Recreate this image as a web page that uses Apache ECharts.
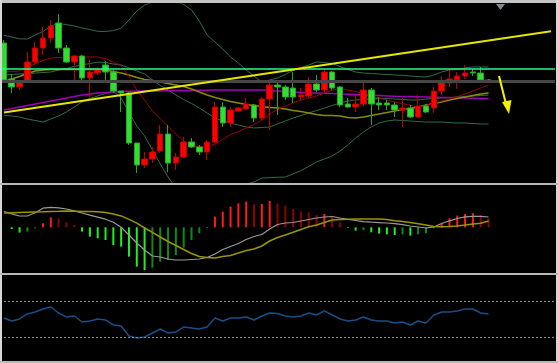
<!DOCTYPE html>
<html><head><meta charset="utf-8">
<script src="https://cdn.jsdelivr.net/npm/echarts@6/dist/echarts.min.js"></script>
<style>html,body{margin:0;padding:0;background:#000;}#c{width:558px;height:363px;}</style>
</head><body><div id="c"></div>
<script>
// ---- data (price points; 63 bars, 8 empty future slots) ----
const bars = Array.from({length: 71}, (_, i) => 'Bar ' + (i + 1));
const opens  = [140,104,96,101,121,135,145,160,135,121,127,105,110,118,111,92,90,40,18,24,32,49,20,26,41,36,31,41,76,60,72,74,78,65,84,98,96,95,86,87,99,93,111,96,79,76,79,93,80,80,78,73,75,66,77,75,92,100,103,107,111,110,103];
const closes = [103,96,101,121,135,145,157,135,121,127,105,111,114,111,92,90,40,18,24,31,49,20,26,41,36,31,41,76,60,73,75,79,65,84,98,96,86,86,88,99,93,111,95,78,76,79,93,79,78,78,73,75,66,77,71,92,101,104,107,110,110,103,101];
const lows   = [100,90,93,100,118,128,140,130,120,100,103,86,108,101,90,71,38,10,15,20,30,11,13,25,35,28,23,40,56,56,71,73,61,63,53,68,83,80,83,85,91,91,93,76,75,71,77,58,73,73,66,56,65,65,70,70,88,96,94,104,107,101,100];
const highs  = [143,109,103,131,141,156,163,169,138,128,128,123,116,122,113,92,91,40,31,36,58,58,30,46,45,38,43,81,81,76,76,85,79,86,102,103,98,111,95,106,108,113,112,97,85,88,103,95,86,83,81,85,78,88,79,96,107,114,111,118,114,116,104];

const bbUpper = [147.7,146,144.2,144,148,151.5,157,159.5,158.4,157,155,153.5,151.7,151.5,152.5,154.7,163,172,178,181,182.5,183,181.5,178.5,173,162,148,141,134,126,120,113,107,101,103,105,108.5,112.5,115.5,118,121,120.5,119.5,116.5,113.5,111,110,109.5,109,108.5,108,107.7,107,106.5,106,108,111,113,114,115,116,116,116];
const bbMid   = [108,108.5,109,109.5,110,110.5,111,113,114.5,116.5,118,119.5,120.8,120.5,119,118,115,112,109,103,97.5,93,88,83.5,79.5,75,70,65,62,60,58,56,55,55.5,56,59,62,65,67.5,70,72.5,75,77.5,80,82,83,83.5,84,84.5,84.5,84,83.5,83,83,84,84.5,85,85.5,86,86.5,87,87.5,88];
const bbLower = [67.7,67,66,64,62.5,61,64,67,71,76,81,84.5,87,89.5,92,85,71,57,47,33,19,6,-5,-10,-13,-13,-13,-11,-8,-5,-3,-1,1,5,5.3,5.7,6,9,12.5,16.5,21,24,27,32,38,45,51,56,60,62,63,62.5,62,61.5,61,61,61,60.5,60,60,59.5,59,59];
const maFast  = [111,111.5,112,115.5,119.5,122.5,125,125.5,125.8,126,126,126,126,124.5,121,117,107,93,83,72,64.5,56.5,49,42,37.5,36,36,39,43.5,48.5,51.5,55,58.5,63,69,73.5,77,80,83,85,87,90,93,94.5,93,91.5,89.5,87,85,83,81,79.5,77.5,76,77.5,79.5,82,84,86.5,89,92,95,98];
const maSlow  = [101.5,104,106.5,109.5,112,113,113.5,113.5,113.5,113.5,113.5,113.5,113.5,113,111.5,110,108,105.5,103.5,102.5,101,99.5,98,96.5,94,91,88,85.5,83.5,81.5,80,78.5,77.5,76.5,75.5,75,74,72.5,71.5,70,68.5,67.5,67.5,67,65.5,65,66,67.5,69,70.5,72,73.5,74.5,76,78,79.5,81,83,84.5,86,87.5,89,90];
const maLong  = [73,74.5,76,77.5,79,80.5,82,83.5,85,86.5,88,89,90,90.5,91,91.5,91.8,92,92,92,92,92.2,92.4,92.5,92.6,92.7,92.8,92.9,93,93,93,93,93,93,92.5,92,91.5,91,90.5,90.2,90,89.7,89.4,89,88.7,88.4,88,87.7,87.4,87.1,86.8,86.6,86.4,86.2,86,85.8,85.6,85.4,85.2,85,84.8,84.6,84.4];

const levelResistance = 114.7;
const levelPivot = 101.3;
const trendStart = 70.5;   // at first bar
const trendEnd = 151.8;    // at last slot

const macdHist   = [0,-1.7,-5.3,-4.3,-1,4,10,9,5,2.3,-4.3,-9.3,-11,-12.7,-17.7,-19.3,-29.3,-39.3,-42.7,-40.3,-34.3,-32.7,-27.7,-20.3,-12.7,-6,-0.7,10.7,15.7,20.7,24,25.7,23,23.3,26.3,24,21.7,18.3,15.7,15,12.3,13.3,10,4.7,-0.7,-3.3,-2.7,-5,-6.3,-7,-7.7,-7,-8.3,-7,-6,-1,4,9,11.7,13.3,14,12.3,9];
const macdLine   = [15.8,13.5,11.3,11.3,14.6,19.1,19.9,19.5,18.3,16.5,14.3,12.1,10.1,8.1,5.1,0,-7.7,-15.7,-22.7,-28.7,-29.7,-31.7,-32.7,-32.7,-32.2,-31.7,-30.2,-26.7,-22.2,-19.2,-16.2,-12.2,-9.2,-7.2,-1.7,2.8,4.3,4.8,6.3,7.8,9.3,10.3,10.8,9.3,8,6.8,5.6,5.1,4.7,4.3,3.6,2.7,1.3,0.3,-0.7,0.3,3.8,6.5,8.8,10.5,11,11,10.3];
const macdSignal = [14.3,14.5,14.8,15.1,15.3,15.5,15.8,16,16.3,16.1,15.9,15.7,15.5,14.7,13.3,11.4,7.9,4.1,-0.7,-5.1,-9.7,-14.2,-18.2,-22.2,-26.2,-29.2,-30.1,-30.7,-29.2,-28.2,-25.7,-23.2,-21.7,-18.7,-13.7,-10.2,-7.7,-5,-2.2,0.5,2.3,4.8,7.3,7.7,8.1,8.3,8.3,8.3,8.3,7.8,6.5,5.7,4.8,3.6,2.4,0.9,0.5,0.9,1.4,2.3,3.3,4.1,6.3];

const rsi = [51.5,48.1,50.4,56.1,58.3,61.7,64,57.2,52.7,53.8,47,48.1,50.4,49.3,43.6,42.5,31.1,28.9,30,34.5,39.1,34.5,35.7,41.3,40.2,39.1,41.3,51.5,48.1,51.5,51.5,52.7,49.3,53.8,57.2,56.7,53.8,52.7,53.8,57.2,54.9,59.5,54.9,50.4,48.1,49.3,52.7,49.3,48.1,48.1,45.9,47,43.6,48.1,45.9,54.9,58.3,58.3,59.5,61.7,61.7,57.2,56.1];
const rsiLevels = [70, 30];

// ---- build ----
const ohlc = opens.map((o, i) => [o, closes[i], lows[i], highs[i]]);
const histData = macdHist.map((v, i) => {
  const prev = i > 0 ? macdHist[i - 1] : v;
  let c;
  if (v >= 0) c = v > prev ? '#ff1a1a' : '#8f0000';
  else c = v < prev ? '#20f020' : '#128a12';
  return { value: v, itemStyle: { color: c } };
});

const chart = echarts.init(document.getElementById('c'), null, { renderer: 'canvas' });
const GL = -2.4, GW = 71 * 7.85;
const xa = (gi) => ({ type: 'category', data: bars, gridIndex: gi, show: false, boundaryGap: true });
const ln = (name, data, color, width, z) => ({
  name, type: 'line', data, xAxisIndex: 0, yAxisIndex: 0, symbol: 'none', z: z || 3,
  lineStyle: { color, width }, silent: true, clip: true
});

chart.setOption({
  backgroundColor: '#000',
  animation: false,
  grid: [
    { left: GL, width: GW, top: 4, height: 179 },
    { left: GL, width: GW, top: 186, height: 87 },
    { left: GL, width: GW, top: 276, height: 85 }
  ],
  xAxis: [xa(0), xa(1), xa(2)],
  yAxis: [
    { type: 'value', gridIndex: 0, min: 0, max: 179, show: false, splitLine: { show: false } },
    { type: 'value', gridIndex: 1, min: -45.7, max: 41.3, show: false, splitLine: { show: false } },
    { type: 'value', gridIndex: 2, min: 2.8, max: 99.1, show: false, splitLine: { show: false } }
  ],
  series: [
    {
      name: 'levels', type: 'line', data: [], xAxisIndex: 0, yAxisIndex: 0, z: 1, silent: true,
      markLine: {
        silent: true, symbol: 'none', label: { show: false }, animation: false,
        data: [
          { yAxis: levelPivot, lineStyle: { color: '#464646', width: 3, type: 'solid' } },
          { yAxis: levelResistance, lineStyle: { color: '#1cff8a', width: 1.5, type: 'solid' } },
          [ { coord: [bars[0], trendStart], lineStyle: { color: '#e6e600', width: 2, type: 'solid' } },
            { coord: [bars[70], trendEnd] } ]
        ]
      }
    },
    ln('BB upper', bbUpper, '#2f6e48', 1, 2),
    ln('BB middle', bbMid, '#2f6e48', 1, 2),
    ln('BB lower', bbLower, '#2f6e48', 1, 2),
    ln('MA long', maLong, '#a000b8', 1.5, 2),
    ln('MA slow', maSlow, '#8c8a00', 1.5, 2),
    ln('MA fast', maFast, '#a00000', 1, 2),
    {
      name: 'price', type: 'candlestick', data: ohlc, xAxisIndex: 0, yAxisIndex: 0, z: 4, barWidth: 6,
      itemStyle: { color: '#ff0000', color0: '#33dd33', borderColor: '#c00000', borderColor0: '#22aa22', borderWidth: 1 }
    },
    {
      name: 'MACD hist', type: 'bar', data: histData, xAxisIndex: 1, yAxisIndex: 1, barWidth: 2, z: 2, silent: true
    },
    {
      name: 'MACD', type: 'line', data: macdLine, xAxisIndex: 1, yAxisIndex: 1, symbol: 'none', z: 3, silent: true,
      lineStyle: { color: '#999999', width: 1.2 }
    },
    {
      name: 'Signal', type: 'line', data: macdSignal, xAxisIndex: 1, yAxisIndex: 1, symbol: 'none', z: 3, silent: true,
      lineStyle: { color: '#9a9600', width: 1.5 }
    },
    {
      name: 'RSI', type: 'line', data: rsi, xAxisIndex: 2, yAxisIndex: 2, symbol: 'none', z: 3, silent: true,
      lineStyle: { color: '#174f86', width: 1.5 },
      markLine: {
        silent: true, symbol: 'none', label: { show: false }, animation: false,
        lineStyle: { color: '#8c8c8c', width: 1, type: [2, 2] },
        data: rsiLevels.map(v => ({ yAxis: v }))
      }
    }
  ],
  graphic: [
    // frame
    { type: 'rect', shape: { x: 0, y: 0, width: 558, height: 3 }, style: { fill: '#c4c4c4' }, z: 100 },
    { type: 'rect', shape: { x: 0, y: 0, width: 2, height: 363 }, style: { fill: '#d8d8d8' }, z: 100 },
    { type: 'rect', shape: { x: 556, y: 0, width: 2, height: 363 }, style: { fill: '#d8d8d8' }, z: 100 },
    { type: 'rect', shape: { x: 0, y: 183, width: 558, height: 2 }, style: { fill: '#b8b8b8' }, z: 100 },
    { type: 'rect', shape: { x: 0, y: 273, width: 558, height: 2 }, style: { fill: '#b8b8b8' }, z: 100 },
    { type: 'rect', shape: { x: 0, y: 361, width: 558, height: 2 }, style: { fill: '#b8b8b8' }, z: 100 },
    // shift marker
    { type: 'polygon', shape: { points: [[496, 4], [505, 4], [500.5, 10]] }, style: { fill: '#7d8a96' }, z: 100 },
    // annotation arrow
    { type: 'line', shape: { x1: 499, y1: 76, x2: 506.5, y2: 106 }, style: { stroke: '#f2f200', lineWidth: 2 }, z: 100 },
    { type: 'polygon', shape: { points: [[502, 102], [511.5, 100], [509, 114]] }, style: { fill: '#f2f200' }, z: 100 }
  ]
});
</script></body></html>
